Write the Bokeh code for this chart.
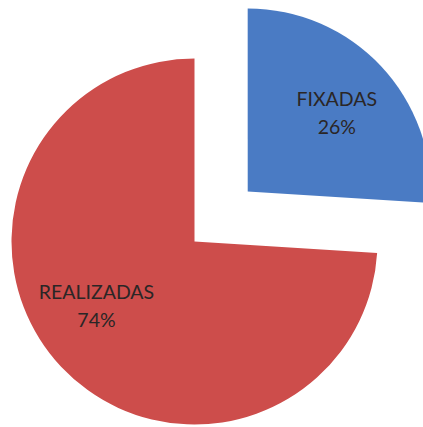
import math
from bokeh.plotting import figure
from bokeh.models import Range1d
from bokeh.embed import file_html
from bokeh.resources import INLINE
from bokeh.core.properties import value

categories = ["FIXADAS", "REALIZADAS"]
percents = [26, 74]
colors = ["#4a7bc4", "#cd4d4b"]
explode = [73, 0]

W, H = 423, 427
p = figure(width=W, height=H, output_backend="svg", toolbar_location=None,
           x_range=Range1d(0, 423), y_range=Range1d(-427, 0), min_border=0)
p.axis.visible = False
p.grid.visible = False
p.outline_line_color = None
p.background_fill_color = "white"
p.border_fill_color = "white"

CX, CY, R = 194, -241, 183
label_r = [0.66, 0.66]
label_nudge = [(1, -4), (-10, 19)]

total = sum(percents)
start = 90.0
for i, (cat, pct) in enumerate(zip(categories, percents)):
    sweep = 360.0 * pct / total
    end = start - sweep
    mid = math.radians(start - sweep / 2)
    ox = explode[i] * math.cos(mid)
    oy = explode[i] * math.sin(mid)
    cx, cy = CX + ox, CY + oy
    r = R
    p.wedge(x=cx, y=cy, radius=r, start_angle=math.radians(start), end_angle=math.radians(end),
            direction="clock", fill_color=colors[i], line_color=None)
    lx = cx + label_r[i] * r * math.cos(mid) + label_nudge[i][0]
    ly = cy + label_r[i] * r * math.sin(mid) + label_nudge[i][1]
    p.text(x=[lx], y=[ly], text=[cat], text_align="center", text_baseline="middle",
           text_font=value("Lato"), text_font_size="19.5px", text_color="#2a2626", y_offset=-14)
    p.text(x=[lx], y=[ly], text=[f"{pct}%"], text_align="center", text_baseline="middle",
           text_font=value("Lato"), text_font_size="19.5px", text_color="#2a2626", y_offset=14)
    start = end

open("out.html", "w").write(file_html(p, INLINE))
